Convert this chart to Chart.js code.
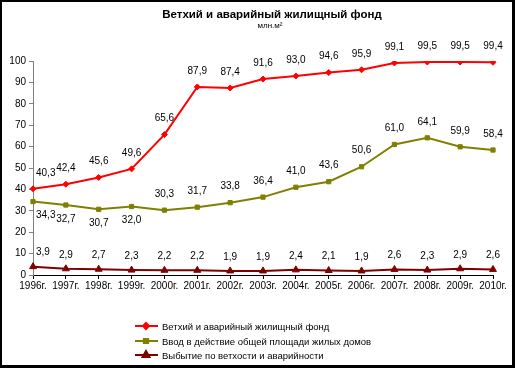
<!DOCTYPE html>
<html>
<head>
<meta charset="utf-8">
<script src="https://cdn.jsdelivr.net/npm/chart.js@4.4.0/dist/chart.umd.min.js"></script>
<style>
  body { margin: 0; background: #fff; }
  canvas { display: block; }
</style>
</head>
<body>
<canvas id="myChart" width="515" height="368"></canvas>
<script>
// years on the x axis
const years = ['1996г.', '1997г.', '1998г.', '1999г.', '2000г.', '2001г.', '2002г.', '2003г.',
  '2004г.', '2005г.', '2006г.', '2007г.', '2008г.', '2009г.', '2010г.']

const seriesNames = [
  'Ветхий и аварийный жилищный фонд',
  'Ввод в действие общей площади жилых домов',
  'Выбытие по ветхости и аварийности'
]

const oldHousing = [40.3, 42.4, 45.6, 49.6, 65.6, 87.9, 87.4, 91.6, 93.0, 94.6, 95.9, 99.1, 99.5, 99.5, 99.4]
const newHousing = [34.3, 32.7, 30.7, 32.0, 30.3, 31.7, 33.8, 36.4, 41.0, 43.6, 50.6, 61.0, 64.1, 59.9, 58.4]
const removed = [3.9, 2.9, 2.7, 2.3, 2.2, 2.2, 1.9, 1.9, 2.4, 2.1, 1.9, 2.6, 2.3, 2.9, 2.6]

const yTicks = [0, 10, 20, 30, 40, 50, 60, 70, 80, 90, 100]

const colors = ['#ff0000', '#808000', '#800000']
const markers = ['rectRot', 'rect', 'triangle']
const fontFamily = 'Arial, "Liberation Sans", sans-serif'

// labels under the point for the first years of the second series
const below = [[], [0, 1, 2, 3], []]

const labelsPlugin = {
  id: 'labelsPlugin',
  afterDraw(chart) {
    const ctx = chart.ctx
    ctx.save()
    // frame
    ctx.fillStyle = '#000'
    ctx.fillRect(0, 0, 515, 2)
    ctx.fillRect(0, 0, 2, 368)
    ctx.fillRect(512, 0, 3, 368)
    ctx.fillRect(0, 365, 515, 3)

    // title
    ctx.fillStyle = '#000'
    ctx.textAlign = 'center'
    ctx.textBaseline = 'middle'
    ctx.font = 'bold 11.5px ' + fontFamily
    ctx.fillText('Ветхий и аварийный жилищный фонд', 272, 15)
    ctx.font = '8px ' + fontFamily
    ctx.fillText('млн.м²', 270, 26)

    // value labels
    ctx.font = '10px ' + fontFamily
    chart.data.datasets.forEach((ds, i) => {
      const meta = chart.getDatasetMeta(i)
      meta.data.forEach((pt, j) => {
        const txt = ds.data[j].toFixed(1).replace('.', ',')
        const y = below[i].includes(j) ? pt.y + 14 : pt.y - (i === 2 ? 14 : 16)
        if (j === 0) {
          ctx.textAlign = 'left'
          ctx.fillText(txt, pt.x + 3, y)
        } else {
          ctx.textAlign = 'center'
          ctx.fillText(txt, pt.x, y)
        }
      })
    })

    // legend
    const rows = [326, 341, 355]
    ctx.textAlign = 'left'
    ctx.font = '9.5px ' + fontFamily
    seriesNames.forEach((name, i) => {
      const y = rows[i]
      ctx.strokeStyle = colors[i]
      ctx.lineWidth = 2
      ctx.beginPath()
      ctx.moveTo(135, y)
      ctx.lineTo(158, y)
      ctx.stroke()
      ctx.fillStyle = colors[i]
      Chart.helpers.drawPoint(ctx, { pointStyle: markers[i], radius: i === 2 ? 4 : 3, borderWidth: 1 }, 146, y)
      ctx.fillStyle = '#000'
      ctx.fillText(name, 162, y + 1)
    })
    ctx.restore()
  }
}

const datasets = [oldHousing, newHousing, removed].map((d, i) => ({
  label: seriesNames[i],
  data: d,
  borderColor: colors[i],
  backgroundColor: colors[i],
  borderWidth: 2,
  pointStyle: markers[i],
  pointRadius: i === 2 ? 4 : 3,
  pointBorderWidth: 1,
  tension: 0
}))

const ctx = document.getElementById('myChart')
const myChart = new Chart(ctx, {
  type: 'line',
  data: { labels: years, datasets: datasets },
  options: {
    responsive: false,
    animation: false,
    devicePixelRatio: 1,
    layout: { padding: { left: 0, right: 22, top: 61, bottom: 73 } },
    plugins: {
      legend: { display: false },
      title: { display: false },
      tooltip: { enabled: false }
    },
    scales: {
      x: {
        type: 'category',
        offset: false,
        afterFit: scale => { scale.height = 20 },
        grid: { offset: false, drawOnChartArea: false, drawTicks: true, tickLength: 4, color: '#000' },
        border: { color: '#000', width: 1 },
        ticks: { color: '#000', font: { family: fontFamily, size: 10 }, padding: 1, maxRotation: 0, autoSkip: false }
      },
      y: {
        min: 0,
        max: 100,
        afterFit: scale => { scale.width = 33 },
        afterBuildTicks: scale => { scale.ticks = yTicks.map(v => ({ value: v })) },
        grid: { drawOnChartArea: false, drawTicks: true, tickLength: 4, color: '#808080' },
        border: { color: '#808080', width: 1 },
        ticks: { color: '#000', font: { family: fontFamily, size: 10 }, padding: 3 }
      }
    }
  },
  plugins: [labelsPlugin]
})
</script>
</body>
</html>
